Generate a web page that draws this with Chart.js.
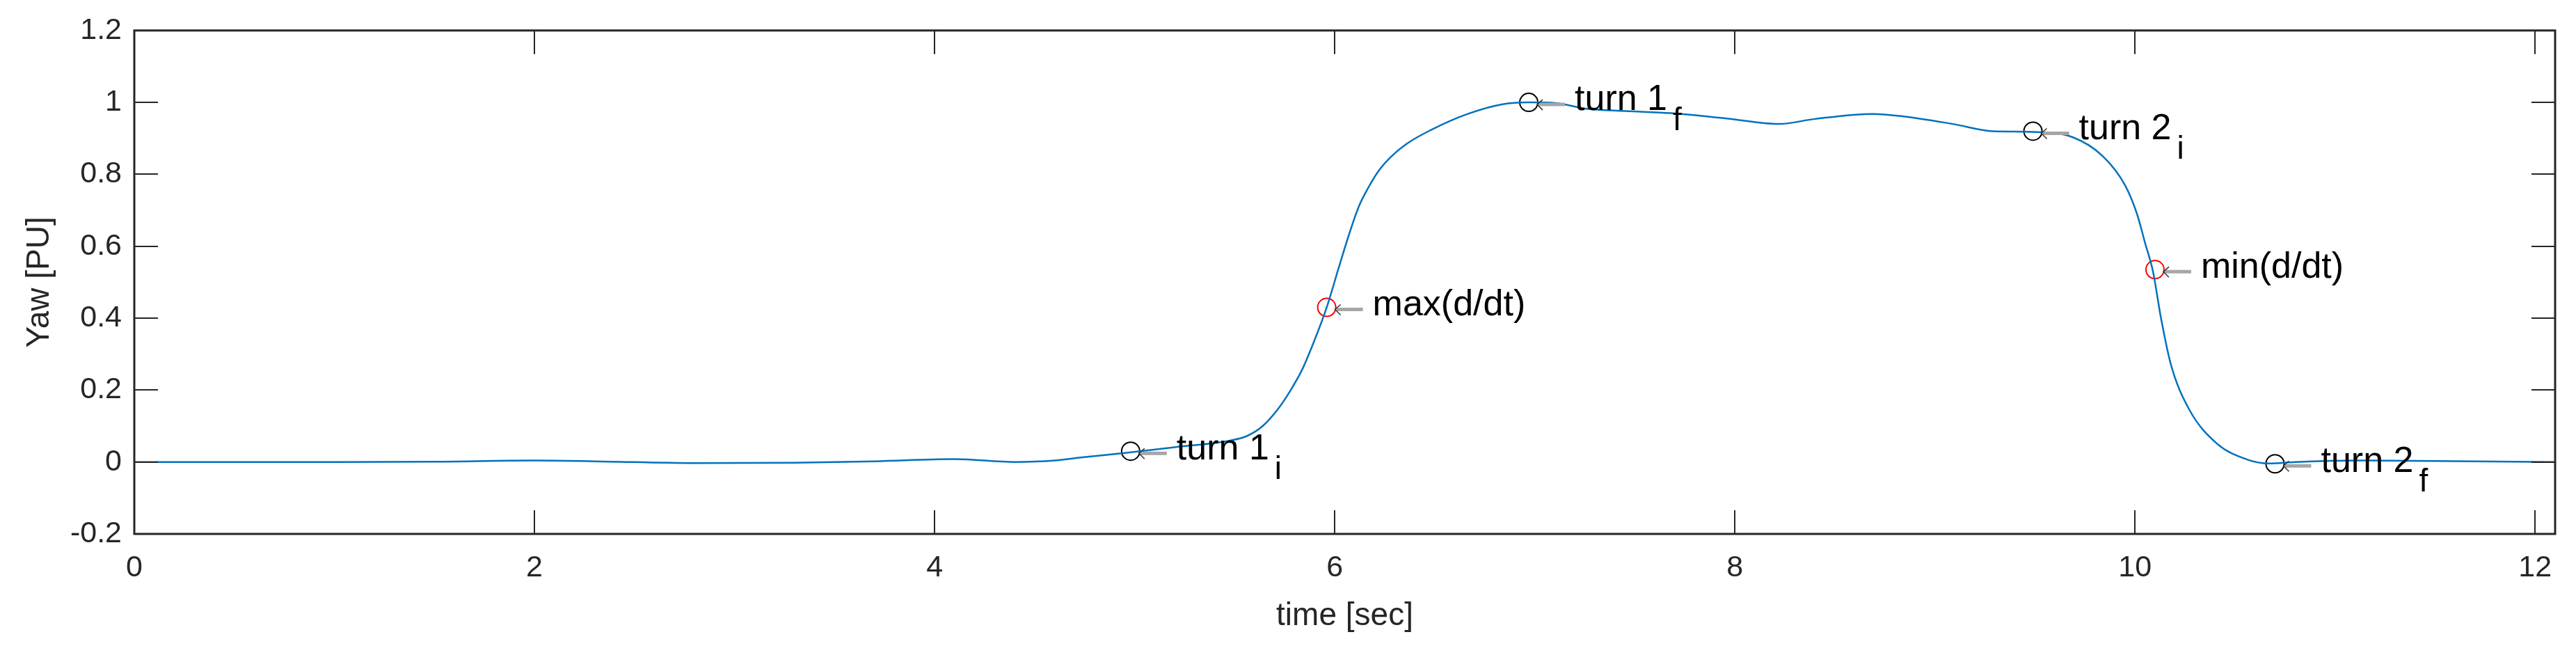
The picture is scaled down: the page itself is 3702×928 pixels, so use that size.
<!DOCTYPE html>
<html>
<head>
<meta charset="utf-8">
<script src="https://cdn.jsdelivr.net/npm/chart.js@4.4.1/dist/chart.umd.min.js"></script>
<style>
  html, body { margin: 0; padding: 0; background: #fff; }
  #wrap { width: 3702px; height: 928px; }
</style>
</head>
<body>
<div id="wrap"><canvas id="yaw" width="3702" height="928"></canvas></div>
<script>
// yaw trace
const timeSec = [0, 0.5, 1, 1.5, 2.0, 2.3, 2.8, 3.3, 3.7, 4.1, 4.4, 4.6, 4.72, 4.95, 5.2, 5.48,
  5.56, 5.64, 5.72, 5.78, 5.84, 5.90, 5.96, 6.02, 6.07, 6.12, 6.17, 6.22, 6.28, 6.36, 6.48, 6.66, 6.84, 6.97,
  7.11, 7.25, 7.45, 7.68, 7.96, 8.22, 8.40, 8.69, 8.83, 9.09, 9.29, 9.49, 9.69, 9.84, 9.95,
  10.01, 10.05, 10.09, 10.13, 10.18, 10.27, 10.41, 10.56, 10.67, 10.8, 11.13, 11.5, 12.1];
const yawPU = [0, 0, 0, 0.001, 0.004, 0.002, -0.003, -0.002, 0.002, 0.008, 0.0, 0.004, 0.012, 0.025, 0.041, 0.06,
  0.072, 0.10, 0.15, 0.20, 0.26, 0.34, 0.43, 0.54, 0.63, 0.71, 0.765, 0.81, 0.848, 0.885, 0.923, 0.967, 0.995, 1.0,
  0.998, 0.983, 0.976, 0.97, 0.955, 0.94, 0.954, 0.968, 0.962, 0.94, 0.92, 0.918, 0.903, 0.85, 0.77,
  0.69, 0.61, 0.53, 0.40, 0.27, 0.147, 0.051, 0.007, -0.004, 0.0, 0.004, 0.003, 0.0];

const xTicks = [0, 2, 4, 6, 8, 10, 12];
const yTicks = [-0.2, 0, 0.2, 0.4, 0.6, 0.8, 1, 1.2];

// marked events
const markText = ["turn 1", "max(d/dt)", "turn 1", "turn 2", "min(d/dt)", "turn 2"];
const markSub = ["i", "", "f", "i", "", "f"];
const markTime = [4.98, 5.96, 6.97, 9.49, 10.10, 10.70];
const markYaw = [0.03, 0.43, 1.0, 0.92, 0.535, -0.005];
const markIsRate = [false, true, false, false, true, false];

const ink = "#262626";
const fontName = '"Liberation Sans", Arial, sans-serif';

const trace = timeSec.map((t, i) => ({ x: t, y: yawPU[i] }));
const turnPts = [];
const ratePts = [];
markTime.forEach((t, i) => {
  (markIsRate[i] ? ratePts : turnPts).push({ x: t, y: markYaw[i] });
});

const axesBox = {
  id: "axesBox",
  afterDatasetsDraw(chart) {
    const { ctx, chartArea: a, scales: { x, y } } = chart;
    const tl = 34;
    ctx.save();
    ctx.strokeStyle = ink;
    ctx.lineWidth = 2;
    ctx.beginPath();
    xTicks.forEach(v => {
      const px = Math.round(x.getPixelForValue(v));
      ctx.moveTo(px, a.bottom); ctx.lineTo(px, a.bottom - tl);
      ctx.moveTo(px, a.top); ctx.lineTo(px, a.top + tl);
    });
    yTicks.forEach(v => {
      const py = Math.round(y.getPixelForValue(v));
      ctx.moveTo(a.left, py); ctx.lineTo(a.left + tl, py);
      ctx.moveTo(a.right, py); ctx.lineTo(a.right - tl, py);
    });
    ctx.stroke();
    ctx.lineWidth = 3;
    ctx.strokeRect(a.left, a.top, a.right - a.left, a.bottom - a.top);
    ctx.restore();
  }
};

const markNotes = {
  id: "markNotes",
  afterDraw(chart) {
    const { ctx, scales: { x, y } } = chart;
    ctx.save();
    markTime.forEach((t, i) => {
      const px = x.getPixelForValue(t);
      const py = y.getPixelForValue(markYaw[i]);
      // arrow shaft
      ctx.strokeStyle = "#a6a6a6";
      ctx.lineWidth = 5;
      ctx.beginPath();
      ctx.moveTo(px + 14, py + 3);
      ctx.lineTo(px + 52, py + 3);
      ctx.stroke();
      // arrow head
      ctx.strokeStyle = "#333";
      ctx.lineWidth = 1.5;
      ctx.beginPath();
      ctx.moveTo(px + 20, py - 4);
      ctx.lineTo(px + 12, py + 3);
      ctx.lineTo(px + 20, py + 11);
      ctx.stroke();
      // label
      ctx.fillStyle = "#000";
      ctx.font = "52px " + fontName;
      ctx.textBaseline = "middle";
      ctx.textAlign = "left";
      const tx = px + 66;
      const ty = py - 3;
      ctx.fillText(markText[i], tx, ty);
      if (markSub[i]) {
        const w = ctx.measureText(markText[i]).width;
        ctx.font = "46px " + fontName;
        ctx.fillText(markSub[i], tx + w + 8, ty + 30);
      }
    });
    ctx.restore();
  }
};

new Chart(document.getElementById("yaw"), {
  type: "line",
  data: {
    datasets: [
      {
        data: trace,
        borderColor: "#0072BD",
        borderWidth: 2.5,
        pointRadius: 0,
        cubicInterpolationMode: "monotone",
        fill: false,
      },
      {
        data: turnPts,
        showLine: false,
        pointRadius: 13,
        pointBorderWidth: 2,
        pointBorderColor: "#000",
        pointBackgroundColor: "rgba(0,0,0,0)",
      },
      {
        data: ratePts,
        showLine: false,
        pointRadius: 13,
        pointBorderWidth: 2,
        pointBorderColor: "#ff0000",
        pointBackgroundColor: "rgba(0,0,0,0)",
      },
    ],
  },
  options: {
    responsive: false,
    animation: false,
    devicePixelRatio: 1,
    layout: { padding: { top: 40, right: 30, left: 0, bottom: 0 } },
    plugins: {
      legend: { display: false },
      tooltip: { enabled: false },
    },
    scales: {
      x: {
        type: "linear",
        min: 0,
        max: 12.1,
        afterBuildTicks: s => { s.ticks = xTicks.map(v => ({ value: v })); },
        afterFit: s => { s.height = 161; },
        grid: { display: false, drawTicks: false },
        border: { display: false },
        ticks: {
          color: ink,
          padding: 23,
          maxRotation: 0,
          font: { family: fontName, size: 43 },
          callback: v => String(v),
        },
        title: {
          display: true,
          text: "time [sec]",
          color: ink,
          font: { family: fontName, size: 46 },
          padding: { top: 0, bottom: 15 },
        },
      },
      y: {
        min: -0.2,
        max: 1.2,
        afterBuildTicks: s => { s.ticks = yTicks.map(v => ({ value: v })); },
        afterFit: s => { s.width = 193; },
        grid: { display: false, drawTicks: false },
        border: { display: false },
        ticks: {
          color: ink,
          padding: 18,
          font: { family: fontName, size: 43 },
          callback: v => String(v),
        },
        title: {
          display: true,
          text: "Yaw [PU]",
          color: ink,
          font: { family: fontName, size: 46 },
          padding: { top: 30, bottom: 0 },
        },
      },
    },
  },
  plugins: [axesBox, markNotes],
});
</script>
</body>
</html>
